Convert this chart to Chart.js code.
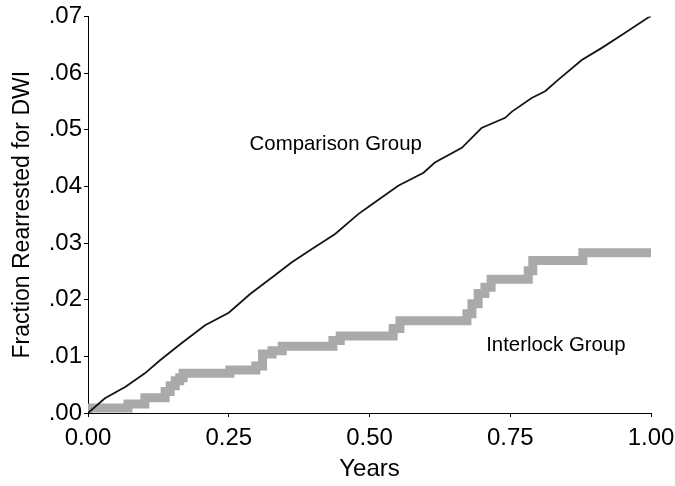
<!DOCTYPE html>
<html>
<head>
<meta charset="utf-8">
<script src="https://cdn.jsdelivr.net/npm/chart.js@4.4.1/dist/chart.umd.min.js"></script>
<style>
  html, body { margin: 0; padding: 0; background: #fff; }
</style>
</head>
<body>
<canvas id="myChart" width="675" height="486"></canvas>
<script>
/*----------- data ------------ */
const comparisonYears = [0, 0.030, 0.066, 0.101, 0.128, 0.166, 0.208, 0.250, 0.288, 0.332,
    0.362, 0.397, 0.439, 0.480, 0.504, 0.551, 0.596, 0.616, 0.664, 0.699,
    0.741, 0.753, 0.788, 0.812, 0.835, 0.877, 0.912, 0.948, 0.995, 1.0];
const comparisonFraction = [0, 0.0026, 0.0046, 0.0070, 0.0093, 0.0123, 0.0155, 0.0177, 0.0210, 0.0243,
    0.0266, 0.0289, 0.0316, 0.0351, 0.0368, 0.0401, 0.0424, 0.0442, 0.0468, 0.0503,
    0.0521, 0.0532, 0.0556, 0.0568, 0.0588, 0.0623, 0.0644, 0.0667, 0.0698, 0.0700];

const interlockYears = [0, 0.071, 0.101, 0.137, 0.146, 0.155, 0.163, 0.169, 0.252, 0.298,
    0.310, 0.327, 0.345, 0.435, 0.448, 0.542, 0.554, 0.673, 0.682, 0.693,
    0.705, 0.716, 0.782, 0.790, 0.879, 0.888, 1.0];
const interlockFraction = [0, 0.0009, 0.0016, 0.0027, 0.0038, 0.0048, 0.0057, 0.0062, 0.0070, 0.0076,
    0.0083, 0.0104, 0.0110, 0.0118, 0.0128, 0.0136, 0.0149, 0.0163, 0.0175, 0.0193,
    0.0211, 0.0222, 0.0236, 0.0251, 0.0269, 0.0283, 0.0283];

const xTickLabels = ['0.00', '0.25', '0.50', '0.75', '1.00'];
const yTickLabels = ['.00', '.01', '.02', '.03', '.04', '.05', '.06', '.07'];

const groupLabels = [
    { text: 'Comparison Group', x: 0.44, y: 0.0474 },
    { text: 'Interlock Group', x: 0.831, y: 0.0120 },
];

/*----------- chart ------------ */
const toPoints = (xs, ys) => xs.map((x, i) => ({ x: x, y: ys[i] }));

const data = {
    datasets: [{
        label: 'Comparison Group',
        data: toPoints(comparisonYears, comparisonFraction),
        borderColor: '#151515',
        borderWidth: 1.8,
        pointRadius: 0,
        tension: 0,
    }, {
        label: 'Interlock Group',
        data: toPoints(interlockYears, interlockFraction),
        borderColor: '#aaaaaa',
        borderWidth: 9,
        borderCapStyle: 'butt',
        borderJoinStyle: 'miter',
        stepped: 'after',
        pointRadius: 0,
    }]
};

const groupLabelPlugin = {
    id: 'groupLabels',
    afterDatasetsDraw(chart) {
        const { ctx, scales } = chart;
        ctx.save();
        ctx.font = '20.4px "Liberation Sans", Arial, sans-serif';
        ctx.fillStyle = '#000';
        ctx.textAlign = 'center';
        ctx.textBaseline = 'middle';
        groupLabels.forEach(l => {
            ctx.fillText(l.text, scales.x.getPixelForValue(l.x), scales.y.getPixelForValue(l.y));
        });
        ctx.restore();
    }
};

const font = { family: '"Liberation Sans", Arial, sans-serif', size: 24 };

const config = {
    type: 'line',
    data: data,
    plugins: [groupLabelPlugin],
    options: {
        responsive: false,
        animation: false,
        devicePixelRatio: 1,
        layout: { padding: { left: 0, top: 15, right: 24, bottom: 0 } },
        plugins: {
            legend: { display: false },
            tooltip: { enabled: false },
        },
        scales: {
            x: {
                type: 'linear',
                min: 0,
                max: 1,
                z: 1,
                afterFit: s => { s.height = 73; s.paddingLeft = 0; s.paddingRight = 0; },
                ticks: {
                    stepSize: 0.25,
                    color: '#000',
                    font: font,
                    padding: 7,
                    maxRotation: 0,
                    callback: (v, i) => xTickLabels[i],
                },
                grid: { drawOnChartArea: false, color: '#000', tickLength: 4 },
                border: { color: '#000', width: 1 },
                title: { display: true, text: 'Years', color: '#000', font: font, padding: { top: 0, bottom: 2 } },
            },
            y: {
                min: 0,
                max: 0.07,
                z: 1,
                afterFit: s => { s.width = 88; },
                ticks: {
                    stepSize: 0.01,
                    color: '#000',
                    font: font,
                    padding: 2,
                    callback: (v, i) => yTickLabels[i],
                },
                grid: { drawOnChartArea: false, color: '#000', tickLength: 4 },
                border: { color: '#000', width: 1 },
                title: { display: true, text: 'Fraction Rearrested for DWI', color: '#000',
                    font: { family: font.family, size: 23 }, padding: { top: 9, bottom: 0 } },
            }
        }
    },
};

const myChart = new Chart(
    document.getElementById('myChart'),
    config
);
</script>
</body>
</html>
